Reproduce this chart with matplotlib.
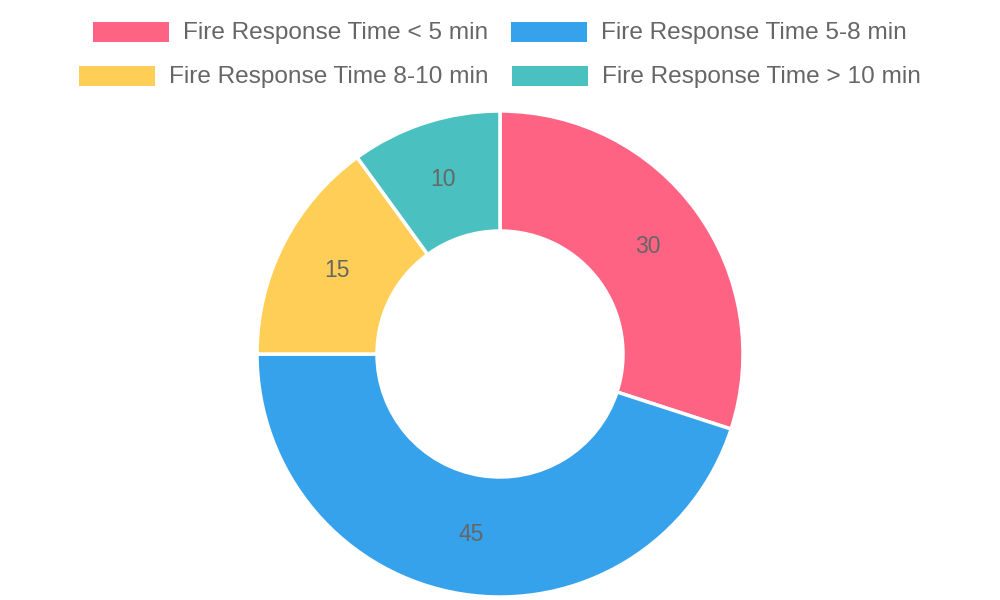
import matplotlib.pyplot as plt
from matplotlib.patches import Rectangle

plt.rcParams['font.family'] = ['Liberation Sans', 'DejaVu Sans']

# data
labels = ['Fire Response Time < 5 min', 'Fire Response Time 5-8 min',
          'Fire Response Time 8-10 min', 'Fire Response Time > 10 min']
values = [30, 45, 15, 10]
colors = ['#FF6384', '#36A2EB', '#FFCE56', '#4BC0C0']

W, H = 1000, 600
fig = plt.figure(figsize=(W / 100, H / 100), dpi=100)
ax = fig.add_axes([0, 0, 1, 1])

# doughnut
outer_r = 243
inner_r = 123
total = sum(values)
wedges, _, autotexts = ax.pie(
    values, colors=colors, center=(500, H - 354), radius=outer_r,
    startangle=90, counterclock=False,
    wedgeprops=dict(width=outer_r - inner_r, edgecolor='white', linewidth=2.5),
    autopct=lambda p: f'{p * total / 100:.0f}',
    pctdistance=(outer_r + inner_r) / 2 / outer_r,
    textprops=dict(color='#666666', fontsize=16.5),
    frame=True)
ax.set_xlim(0, W)
ax.set_ylim(0, H)
ax.set_aspect('equal')
ax.axis('off')

# legend, chart.js style: rows centered independently
fs = 17.6
box_w, box_h = 76, 20
gap_text = 14
gap_item = 23
rows = [[0, 1], [2, 3]]
row_y = [32, 76]

renderer = fig.canvas.get_renderer()
for r, idxs in enumerate(rows):
    widths = []
    for i in idxs:
        t = fig.text(0, 0, labels[i], fontsize=fs)
        widths.append(t.get_window_extent(renderer).width)
        t.remove()
    total_w = sum(box_w + gap_text + w for w in widths) + gap_item * (len(idxs) - 1)
    x = (W - total_w) / 2
    yc = H - row_y[r]
    for i, w in zip(idxs, widths):
        ax.add_patch(Rectangle((x, yc - box_h / 2), box_w, box_h,
                               facecolor=colors[i], edgecolor='none',
                               clip_on=False))
        ax.text(x + box_w + gap_text, yc - 1, labels[i], fontsize=fs,
                color='#666666', ha='left', va='center')
        x += box_w + gap_text + w + gap_item

fig.savefig('out.png', dpi=100)
